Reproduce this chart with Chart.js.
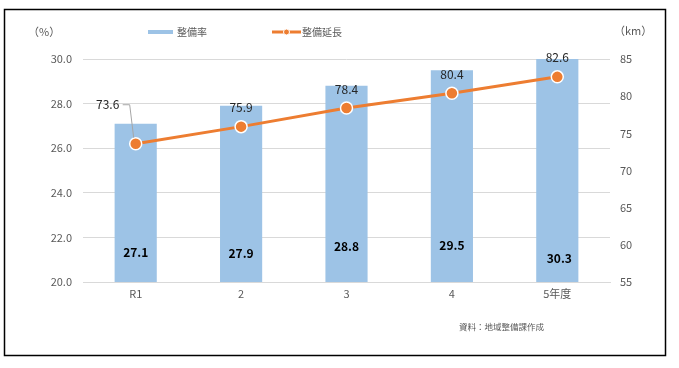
<!DOCTYPE html>
<html><head><meta charset="utf-8">
<script src="https://cdn.jsdelivr.net/npm/chart.js@4"></script>
<style>
html,body{margin:0;padding:0;background:#fff;}
#wrap{position:relative;width:679px;height:368px;}
canvas{display:block;}
</style></head>
<body><div id="wrap"><canvas id="c" width="679" height="368"></canvas></div>
<script>
const categories = ['R1', '2', '3', '4', '5年度'];
const rateValues = [27.1, 27.9, 28.8, 29.5, 30.3];      // 整備率 (%)
const lengthValues = [73.6, 75.9, 78.4, 80.4, 82.6];    // 整備延長 (km)
const rateLabel = '整備率';
const lengthLabel = '整備延長';
const leftUnit = '（%）';
const rightUnit = '（km）';
const sourceText = '資料：地域整備課作成';

const FONT = "'Noto Sans CJK JP', 'Noto Sans', sans-serif";
const BLUE = '#9DC3E6';
const ORANGE = '#ED7D31';
const TXT = '#595959';

const decor = {
  id: 'decor',
  afterDatasetsDraw(chart) {
    const ctx = chart.ctx;
    const xs = chart.scales.x, yl = chart.scales.y, yr = chart.scales.y1;
    ctx.save();
    // bar value labels near base
    ctx.font = "bold 12px " + FONT;
    ctx.fillStyle = '#000';
    ctx.textAlign = 'center'; ctx.textBaseline = 'middle';
    const barNudge = [0, 1, -6, -7, 6];
    rateValues.forEach((v, i) => {
      const x = xs.getPixelForValue(i);
      ctx.fillText(v.toFixed(1), x + (i === 4 ? 2 : 0), yl.getPixelForValue(20) - 30 + barNudge[i]);
    });
    // line value labels
    ctx.font = "12px " + FONT;
    ctx.fillStyle = '#262626';
    lengthValues.forEach((v, i) => {
      const x = xs.getPixelForValue(i);
      const y = yr.getPixelForValue(v);
      if (i === 0) {
        ctx.fillText(v.toFixed(1), x - 28, y - 39);
        ctx.strokeStyle = '#a6a6a6'; ctx.lineWidth = 1;
        ctx.beginPath();
        ctx.moveTo(x - 13, y - 39);
        ctx.lineTo(x - 6, y - 39);
        ctx.lineTo(x - 2, y - 6);
        ctx.stroke();
      } else {
        ctx.fillText(v.toFixed(1), x, y - 19);
      }
    });
    ctx.restore();
  },
  afterDraw(chart) {
    const ctx = chart.ctx;
    ctx.save();
    // legend
    ctx.fillStyle = BLUE;
    ctx.fillRect(148, 30, 25, 4);
    ctx.font = "10px " + FONT;
    ctx.fillStyle = TXT;
    ctx.textAlign = 'left'; ctx.textBaseline = 'middle';
    ctx.fillText(rateLabel, 177, 32);
    ctx.strokeStyle = ORANGE; ctx.lineWidth = 3;
    ctx.beginPath(); ctx.moveTo(272, 32); ctx.lineTo(301, 32); ctx.stroke();
    ctx.fillStyle = ORANGE;
    ctx.beginPath(); ctx.arc(286.5, 32, 3, 0, Math.PI * 2); ctx.fill();
    ctx.strokeStyle = '#fff'; ctx.lineWidth = 1; ctx.stroke();
    ctx.fillStyle = TXT;
    ctx.fillText(lengthLabel, 302, 32);
    // units
    ctx.font = "11px " + FONT;
    ctx.fillText(leftUnit, 28, 32);
    ctx.fillText(rightUnit, 614, 31);
    // source
    ctx.font = "8.5px " + FONT;
    ctx.fillText(sourceText, 459, 327);
    // frame
    ctx.strokeStyle = '#000'; ctx.lineWidth = 1.5;
    ctx.strokeRect(4.5, 9.5, 661, 346);
    ctx.restore();
  }
};

new Chart(document.getElementById('c'), {
  data: {
    labels: categories,
    datasets: [
      {
        type: 'line', label: lengthLabel, data: lengthValues, yAxisID: 'y1',
        borderColor: ORANGE, borderWidth: 3, backgroundColor: ORANGE,
        pointRadius: 6, pointBorderColor: '#fff', pointBorderWidth: 1.5,
        pointBackgroundColor: ORANGE, order: 0
      },
      {
        type: 'bar', label: rateLabel, data: rateValues, yAxisID: 'y',
        backgroundColor: BLUE, barPercentage: 0.4, categoryPercentage: 1, order: 1
      }
    ]
  },
  options: {
    responsive: false, animation: false,
    layout: { padding: { top: 59, left: 0, right: 0, bottom: 0 } },
    plugins: { legend: { display: false }, tooltip: { enabled: false } },
    scales: {
      x: {
        afterFit(s) { s.height = 86; },
        grid: { display: false, drawTicks: false },
        border: { color: '#d9d9d9', width: 1 },
        ticks: { font: { family: FONT, size: 11 }, color: TXT, padding: 5 }
      },
      y: {
        position: 'left', min: 20, max: 30,
        afterFit(s) { s.width = 83; },
        ticks: { stepSize: 2, callback: v => v.toFixed(1), font: { family: FONT, size: 11 }, color: TXT, padding: 11 },
        grid: { color: '#d9d9d9', drawTicks: false },
        border: { display: false }
      },
      y1: {
        position: 'right', min: 55, max: 85,
        afterFit(s) { s.width = 69; },
        ticks: { stepSize: 5, font: { family: FONT, size: 11 }, color: TXT, padding: 10 },
        grid: { display: false, drawTicks: false },
        border: { display: false }
      }
    }
  },
  plugins: [decor]
});
</script></body></html>
